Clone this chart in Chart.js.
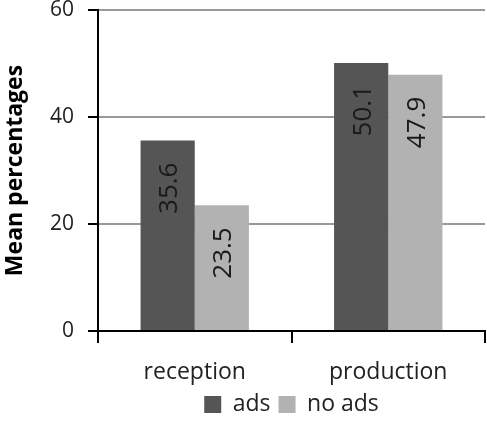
<!DOCTYPE html>
<html>
<head>
<meta charset="utf-8">
<script src="https://cdn.jsdelivr.net/npm/chart.js@4/dist/chart.umd.min.js"></script>
<style>
  html, body { margin: 0; padding: 0; background: #fff; }
  #wrap { width: 487px; height: 422px; }
</style>
</head>
<body>
<div id="wrap"><canvas id="chart" width="487" height="422"></canvas></div>
<script>
// Mean percentages by task, with and without ads
const categories = ['reception', 'production'];
const adsValues = [35.6, 50.1];
const noAdsValues = [23.5, 47.9];
const yTicks = [0, 20, 40, 60];

const FONT = '"Open Sans", "DejaVu Sans", sans-serif';

// draws the value labels inside each bar, rotated
const barLabels = {
  id: 'barLabels',
  afterDatasetsDraw(chart) {
    const ctx = chart.ctx;
    ctx.save();
    ctx.font = '26px ' + FONT;
    ctx.fillStyle = '#1a1a1a';
    ctx.textAlign = 'right';
    ctx.textBaseline = 'middle';
    chart.data.datasets.forEach(function(ds, i) {
      chart.getDatasetMeta(i).data.forEach(function(bar, j) {
        ctx.save();
        ctx.translate(bar.x + 2, bar.y + 22);
        ctx.rotate(-Math.PI / 2);
        ctx.fillText(ds.data[j].toFixed(1), 0, 0);
        ctx.restore();
      });
    });
    ctx.restore();
  }
};

new Chart(document.getElementById('chart').getContext('2d'), {
  type: 'bar',
  data: {
    labels: categories,
    datasets: [
      { label: 'ads', data: adsValues, backgroundColor: '#555555', barPercentage: 1, categoryPercentage: 0.56 },
      { label: 'no ads', data: noAdsValues, backgroundColor: '#b2b2b2', barPercentage: 1, categoryPercentage: 0.56 }
    ]
  },
  options: {
    responsive: false,
    animation: false,
    layout: { padding: { top: 10, right: 2, left: 0, bottom: -4 } },
    plugins: {
      legend: {
        position: 'bottom',
        fullSize: false,
        labels: { boxWidth: 17, boxHeight: 17, padding: 8, color: '#222', font: { family: FONT, size: 23 } }
      },
      tooltip: { enabled: false }
    },
    scales: {
      x: {
        afterFit: function(scale) { scale.height = 54; },
        border: { color: '#000', width: 2 },
        grid: { drawOnChartArea: false, tickLength: 12, tickColor: '#000', lineWidth: 2 },
        ticks: { color: '#222', padding: 16, font: { family: FONT, size: 23 } }
      },
      y: {
        min: 0,
        max: 60,
        afterBuildTicks: function(scale) { scale.ticks = yTicks.map(v => ({ value: v })); },
        afterFit: function(scale) { scale.width = 98; scale.paddingTop = 0; scale.paddingBottom = 0; },
        border: { color: '#000', width: 2 },
        grid: {
          color: c => c.tick && c.tick.value === 0 ? 'rgba(0,0,0,0)' : '#999999',
          lineWidth: 2,
          tickLength: 10,
          tickColor: '#000'
        },
        ticks: { color: '#222', padding: 14, font: { family: FONT, size: 21 } },
        title: { display: true, text: 'Mean percentages', color: '#000', font: { family: FONT, size: 23, weight: 'bold' }, padding: { top: 2, bottom: 0 } }
      }
    }
  },
  plugins: [barLabels]
});
</script>
</body>
</html>
